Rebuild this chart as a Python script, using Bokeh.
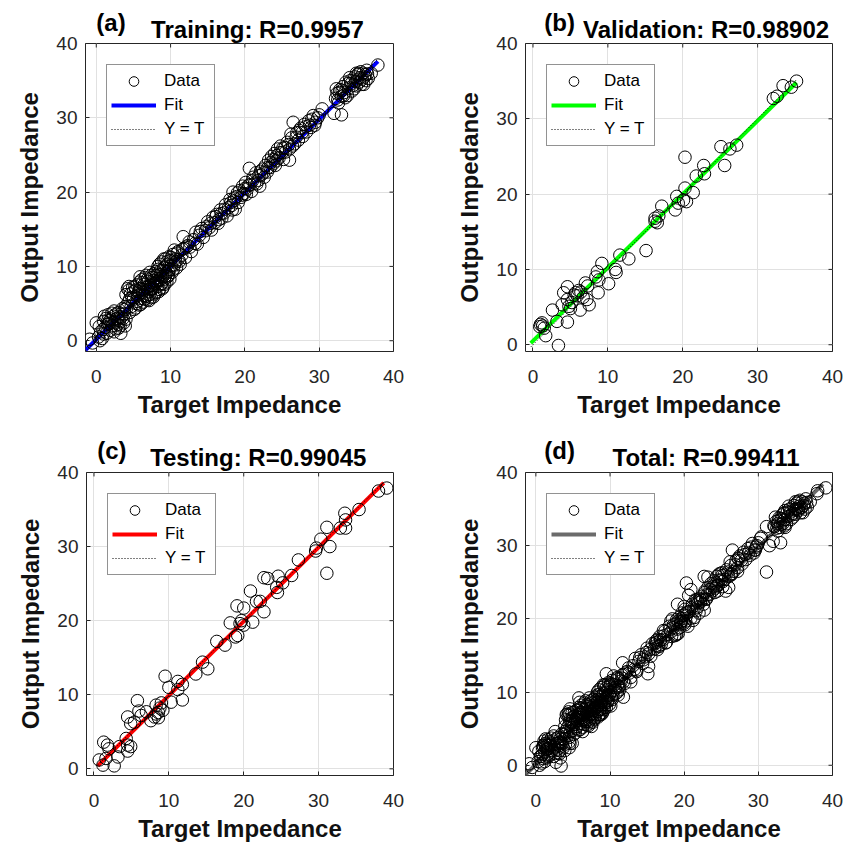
import numpy as np
from bokeh.plotting import figure
from bokeh.models import Range1d, FixedTicker, Legend, LegendItem
from bokeh.layouts import row, column
from bokeh.core.properties import value
from bokeh.embed import file_html
from bokeh.resources import INLINE

# ---------------- data ----------------
tick_values = [0, 10, 20, 30, 40]

train_target = [
    -0.9, -0.5, 0.0, 0.3, 0.6, 0.8, 1.0, 1.2, 1.3, 1.5, 1.6, 1.8, 1.9, 2.0, 2.2, 2.3, 2.5, 2.6, 2.8, 2.9,
    3.0, 3.1, 3.3, 3.4, 3.5, 3.7, 3.8, 3.9, 4.0,
    0.4, 0.9, 1.1, 1.4, 1.7, 2.1, 2.4, 2.7, 3.2, 3.6, 2.1, 1.6, 2.9, 3.3, 3.9, 0.5, 1.0, 2.4, 3.0, 3.8,
    4.2, 4.3, 4.5, 4.6, 4.7, 4.9, 5.0, 5.1, 5.3, 5.4, 5.5, 5.6, 5.8, 5.9, 6.0, 6.1, 6.2, 6.3, 6.5, 6.6,
    6.7, 6.8, 6.9, 7.0, 7.1, 7.2, 7.3, 7.4, 7.5, 7.6, 7.7, 7.8, 7.9, 8.0, 8.1, 8.2, 8.3, 8.4, 8.5, 8.6,
    8.7, 8.8, 8.9, 9.0, 9.1, 9.2, 9.3, 9.4, 9.5, 9.6, 9.7, 9.8, 9.9, 10.0, 10.2, 10.3, 10.5, 10.6, 10.8, 11.0,
    11.2, 11.5, 11.7, 11.8, 12.0, 12.3, 12.5, 12.8,
    4.1, 4.4, 4.8, 5.2, 5.5, 5.7, 6.0, 6.2, 6.4, 6.6, 6.8, 7.0, 7.2, 7.4, 7.5, 7.7, 7.9, 8.0, 8.2, 8.4,
    8.5, 8.7, 8.9, 9.0, 9.2, 9.3, 9.5, 9.7, 9.9, 10.1, 10.4, 10.7, 10.9, 11.3, 11.6, 12.1, 5.0, 5.8, 6.3, 6.9,
    7.3, 7.8, 8.1, 8.6, 8.8, 9.4, 9.6, 10.1, 4.5, 5.3, 6.5, 7.1, 4.0, 4.4, 5.9, 8.3, 9.1, 10.5, 11.0, 12.6,
    13.1, 13.4, 13.6, 13.9, 14.2, 14.4, 14.7, 15.0, 15.2, 15.5, 15.7, 16.0, 16.2, 16.5, 16.7, 16.9, 17.2, 17.4, 17.6, 17.8,
    18.0, 18.2, 18.4, 18.5, 18.7, 18.9, 19.1, 19.3, 19.5, 19.7, 19.9, 20.1, 20.3, 20.6, 20.7, 20.9, 21.1, 21.3, 21.5, 21.8,
    22.0, 22.2, 22.4, 22.6, 22.8, 23.0, 23.2, 23.4, 23.6, 23.8, 24.0, 24.2, 24.4, 24.6, 24.8, 25.0, 25.2, 25.4, 25.7, 26.0,
    26.0, 26.3, 26.5, 26.7, 27.0, 27.2, 27.5, 27.8, 28.0, 28.3, 28.6, 28.9, 29.2, 29.5, 29.8, 30.4,
    13.3, 14.0, 14.9, 15.4, 16.1, 16.8, 17.3, 18.1, 18.6, 19.0, 19.6, 20.0, 20.5, 21.0, 21.6, 22.1, 22.5, 23.1, 23.5, 23.9,
    24.3, 24.7, 25.1, 25.5, 25.9, 26.4, 26.9, 27.3, 27.7, 28.2, 28.7, 29.0, 29.4, 30.0, 24.1, 21.9, 20.2, 18.3, 16.4, 26.2,
    32.0, 32.2, 32.4, 32.6, 32.8, 33.0, 33.0, 33.2, 33.4, 33.6, 33.8, 34.0, 34.2, 34.4, 34.6, 34.8, 35.0, 35.2, 35.4, 35.6,
    35.8, 36.0, 36.2, 36.4, 36.6, 37.0, 37.9,
    32.3, 32.7, 33.1, 33.5, 33.9, 34.3, 34.7, 35.1, 35.3, 35.5, 35.7, 35.9, 36.1, 36.3, 36.5, 34.1, 33.3, 32.5, 34.9, 35.0,
]
train_output = [
    0.2, -0.3, 2.4, 0.5, 1.2, 0.3, 2.6, 1.8, 3.0, 2.2, 3.5, 2.7, 1.4, 2.9, 2.0, 3.3, 2.5, 1.6, 3.0, 2.2,
    3.8, 2.7, 1.0, 3.2, 4.3, 2.4, 3.6, 4.6, 2.9,
    1.9, 1.5, 3.3, 1.0, 2.3, 3.7, 1.2, 3.6, 2.0, 3.0, 2.5, 2.8, 2.9, 3.6, 2.0, 0.0, 0.9, 4.0, 1.7, 4.2,
    7.0, 5.2, 3.8, 6.3, 4.6, 7.2, 5.6, 4.2, 6.8, 5.0, 7.5, 6.1, 4.8, 7.0, 5.7, 8.2, 6.5, 5.2, 7.6, 6.0,
    8.8, 7.1, 5.5, 8.0, 6.6, 9.2, 7.4, 5.8, 8.5, 7.0, 5.9, 9.0, 7.8, 6.5, 8.8, 7.3, 10.0, 8.1, 6.9, 9.4,
    7.6, 10.6, 8.6, 7.2, 9.8, 8.3, 11.0, 9.1, 7.9, 10.3, 8.8, 11.3, 9.6, 10.8, 9.2, 11.6, 10.2, 11.0, 9.8, 12.0,
    10.7, 11.5, 14.0, 12.4, 11.2, 12.8, 13.3, 12.0,
    4.4, 6.8, 5.8, 7.3, 5.3, 6.6, 4.9, 7.8, 6.1, 8.5, 6.0, 7.3, 6.2, 8.8, 7.1, 8.1, 6.3, 9.3, 8.0, 6.6,
    10.3, 8.3, 7.0, 9.5, 7.6, 8.7, 10.6, 9.3, 8.3, 11.2, 9.6, 10.6, 11.8, 10.3, 12.3, 12.6, 6.6, 7.9, 6.9, 8.3,
    6.9, 7.5, 7.7, 8.9, 7.7, 10.0, 8.6, 10.1, 5.6, 4.4, 5.6, 5.4, 6.2, 7.3, 8.6, 9.6, 11.0, 12.2, 10.9, 12.6,
    13.6, 14.6, 13.0, 14.2, 15.1, 13.9, 14.8, 16.0, 15.2, 14.9, 16.6, 15.9, 17.0, 16.3, 17.6, 16.5, 17.2, 18.3, 16.8, 17.9,
    19.0, 18.2, 20.0, 18.8, 17.7, 19.4, 18.6, 20.2, 19.3, 20.8, 19.8, 21.3, 20.4, 23.2, 21.0, 20.1, 22.0, 21.2, 22.6, 21.6,
    20.8, 22.3, 23.1, 22.0, 23.6, 22.7, 24.3, 23.3, 24.8, 23.8, 25.2, 24.2, 25.8, 24.6, 26.2, 25.3, 24.4, 26.0, 26.7, 24.3,
    25.8, 27.3, 29.4, 26.5, 28.0, 27.0, 28.6, 27.5, 29.1, 28.1, 29.6, 28.7, 30.3, 29.4, 30.0, 31.2,
    13.1, 14.7, 15.4, 15.8, 16.7, 17.1, 17.7, 18.6, 19.2, 19.9, 19.6, 20.5, 20.9, 21.5, 21.1, 22.8, 22.6, 23.3, 24.0, 24.4,
    24.9, 25.3, 25.9, 25.4, 26.4, 26.2, 27.4, 28.3, 28.0, 28.8, 29.0, 29.8, 29.0, 30.4, 23.6, 22.2, 19.7, 17.6, 15.8, 27.8,
    30.6, 32.6, 33.3, 32.0, 33.8, 30.4, 32.9, 34.2, 33.4, 34.8, 33.0, 34.0, 35.0, 33.6, 34.4, 35.5, 34.3, 35.8, 34.8, 36.2,
    35.2, 34.5, 35.8, 36.4, 35.3, 36.0, 37.1,
    33.9, 33.4, 33.7, 32.7, 34.6, 34.6, 33.9, 35.1, 36.0, 35.4, 34.5, 36.0, 35.5, 35.0, 35.9, 35.4, 33.0, 32.4, 34.9, 36.0,
]

val_target = [
    35.2, 34.5, 33.4, 32.6, 32.1, 27.2, 26.3, 25.1, 25.6, 20.3, 22.8, 22.9, 21.8, 20.3, 21.4, 20.1, 20.5,
    19.2, 19.0, 19.4, 16.3, 16.8, 17.2, 16.3, 16.6, 15.1, 12.8, 11.6, 11.0, 11.1, 10.1, 9.2, 8.6, 8.8,
    8.4, 8.7, 7.0, 7.3, 7.5, 7.2, 6.3, 5.7, 5.9, 6.1, 5.5, 6.4, 6.7, 4.6, 4.1, 4.6, 4.8, 3.9, 5.2, 5.0,
    2.6, 4.6, 3.2, 3.4, 1.2, 1.0, 1.5, 1.7, 1.3, 0.9,
]
val_output = [
    35.0, 34.2, 34.4, 33.0, 32.7, 26.5, 26.0, 26.3, 23.8, 24.9, 23.8, 22.7, 22.4, 20.8, 20.2, 19.2, 19.0,
    19.7, 17.9, 18.8, 16.8, 17.1, 18.4, 16.4, 16.2, 12.5, 11.4, 11.9, 10.0, 9.6, 8.1, 10.8, 9.7, 8.6,
    9.0, 6.9, 8.2, 7.8, 5.3, 6.0, 4.6, 6.9, 6.5, 7.2, 6.6, 7.0, 6.3, 7.7, 6.9, 6.0, 5.1, 5.3, 5.6, 4.8,
    4.6, 3.0, 3.1, -0.1, 2.9, 2.7, 2.2, 1.2, 2.5, 2.4,
]

test_target = [
    39.1, 38.0, 35.4, 33.5, 33.6, 33.6, 32.9, 31.1, 30.3, 31.5, 29.7, 29.6, 31.1, 27.3, 26.4, 25.2, 24.6,
    24.4, 24.5, 22.7, 23.2, 22.7, 22.2, 21.7, 20.9, 21.2, 20.0, 19.1, 19.7, 20.0, 19.5, 18.2, 19.2, 18.9,
    16.4, 17.5, 14.5, 15.2, 13.6, 11.8, 11.2, 11.2, 11.8, 9.5, 10.0, 10.3, 9.0, 8.8, 8.3, 8.3, 8.1, 8.6,
    9.2, 8.6, 7.6, 7.0, 6.0, 5.8, 5.4, 4.5, 4.9, 6.3, 4.3, 4.5, 4.9, 4.5, 3.4, 3.2, 1.3, 1.8, 2.0, 0.7,
    1.2, 2.7, 1.6,
]
test_output = [
    37.9, 37.5, 35.0, 34.5, 33.6, 32.5, 32.5, 32.6, 31.0, 30.0, 29.8, 29.4, 26.4, 28.2, 26.1, 25.1, 26.0,
    24.5, 23.8, 25.8, 25.7, 21.2, 22.6, 22.6, 24.0, 19.8, 21.7, 22.0, 20.0, 19.4, 19.6, 19.7, 18.0, 17.8,
    17.2, 16.7, 14.4, 13.5, 12.8, 11.4, 11.8, 10.7, 9.3, 12.5, 11.0, 9.0, 8.9, 8.2, 8.6, 7.4, 7.0, 7.6,
    7.9, 6.9, 6.5, 7.7, 7.8, 9.2, 6.3, 7.0, 6.1, 7.2, 4.1, 3.2, 3.0, 2.4, 3.0, 1.6, 3.6, 3.2, 2.7, 1.2,
    0.5, 0.4, 1.4,
]

total_target = train_target + val_target + test_target
total_output = train_output + val_output + test_output

panel_tags = ["(a)", "(b)", "(c)", "(d)"]
panel_titles = ["Training: R=0.9957", "Validation: R=0.98902", "Testing: R=0.99045", "Total: R=0.99411"]
fit_colors = ["#0000ff", "#00ff00", "#ff0000", "#6b6b6b"]
fit_slope = [0.987, 0.975, 1.0, 0.99]
fit_intercept = [0.18, 0.5, -0.1, 0.1]
fit_span = [(-1.45, 37.9), (-0.3, 35.2), (0.5, 38.7), (-1.4, 38.7)]
axis_low = [(-1.45, -1.45), (-1.0, -0.9), (-1.0, -0.9), (-1.4, -1.4)]

# ---------------- styling / layout ----------------
FONT = "Liberation Sans"
AX = "#262626"
HEADER_H = 45
# main plot: (left, right, top, bottom) borders, (width, height), overlap with header
geometry = [
    ((85, 35, 13, 77), (428, 398), 15),
    ((97, 22, 13, 77), (426, 398), 15),
    ((86, 35, 13, 65), (428, 385), 14),
    ((97, 22, 13, 65), (426, 385), 14),
]
tag_x = [15, 26, 15, 26]
title_y = 16   # text anchor height inside the header strip
tag_y = 23


def style_axis(ax):
    ax.ticker = FixedTicker(ticks=tick_values)
    ax.axis_line_color = None
    ax.major_tick_in = 4
    ax.major_tick_out = 0
    ax.major_tick_line_color = AX
    ax.minor_tick_line_color = None
    ax.major_label_text_font = FONT
    ax.major_label_text_font_size = "19px"
    ax.major_label_text_color = AX
    ax.axis_label_text_font = FONT
    ax.axis_label_text_font_size = "24px"
    ax.axis_label_text_font_style = "bold"
    ax.axis_label_text_color = "#111111"


def make_header(i):
    (bl, br, bt, bb), (w, h), ov = geometry[i]
    fw = w - bl - br
    hd = figure(width=w, height=HEADER_H, output_backend="svg", toolbar_location=None,
                x_range=Range1d(0, w), y_range=Range1d(0, HEADER_H),
                x_axis_type=None, y_axis_type=None,
                min_border=0, min_border_left=0, min_border_right=0, min_border_top=0,
                min_border_bottom=0, title_location=None)
    hd.outline_line_color = None
    hd.background_fill_color = "white"
    hd.border_fill_color = "white"
    hd.text(x=[bl + fw / 2], y=[title_y], text=[panel_titles[i]],
            text_align="center", text_baseline="alphabetic", text_font=value(FONT),
            text_font_size=value("24px"), text_font_style="bold", text_color="black")
    hd.text(x=[tag_x[i]], y=[tag_y], text=[panel_tags[i]],
            text_align="left", text_baseline="alphabetic", text_font=value(FONT),
            text_font_size=value("24px"), text_font_style="bold", text_color="black")
    return hd


def make_panel(i, t, o):
    (bl, br, bt, bb), (w, h), ov = geometry[i]
    fw = w - bl - br
    lx, ly = axis_low[i]
    p = figure(width=w, height=h, output_backend="svg", toolbar_location=None,
               x_range=Range1d(lx, 40), y_range=Range1d(ly, 40), title_location=None,
               min_border_left=bl, min_border_right=br, min_border_top=bt, min_border_bottom=bb,
               x_axis_label="Target Impedance", y_axis_label="Output Impedance",
               margin=(-ov, 0, 0, 0))
    p.background_fill_color = "white"
    p.border_fill_color = None
    p.outline_line_color = AX
    p.outline_line_width = 1

    for ax in p.xaxis:
        style_axis(ax)
        ax.major_label_standoff = 18
        ax.axis_label_standoff = 5
    for ax in p.yaxis:
        style_axis(ax)
        ax.major_label_standoff = 8
        ax.axis_label_standoff = 10

    p.xgrid.ticker = FixedTicker(ticks=tick_values)
    p.ygrid.ticker = FixedTicker(ticks=tick_values)
    p.grid.grid_line_color = "#e1e1e1"
    p.grid.grid_line_width = 1

    # inward ticks on the top and right edges of the box (MATLAB "box on")
    tick_len = 4 * (40 - lx) / fw
    tv = np.array(tick_values[:-1], dtype=float)
    p.segment(x0=tv, y0=np.full_like(tv, 40.0), x1=tv, y1=np.full_like(tv, 40.0 - tick_len),
              line_color=AX, line_width=1)
    p.segment(x0=np.full_like(tv, 40.0), y0=tv, x1=np.full_like(tv, 40.0 - tick_len), y1=tv,
              line_color=AX, line_width=1)

    xs = np.array(fit_span[i])
    r_fit = p.line(xs, fit_slope[i] * xs + fit_intercept[i], line_color=fit_colors[i], line_width=4)
    r_yt = p.line(xs, xs, line_color="black", line_width=1, line_dash="1 2")
    r_data = p.scatter(t, o, marker="circle", size=12.5, fill_color=None,
                       line_color="black", line_width=1)

    legend = Legend(items=[LegendItem(label="Data", renderers=[r_data]),
                           LegendItem(label="Fit", renderers=[r_fit]),
                           LegendItem(label="Y = T", renderers=[r_yt])],
                    location="top_left", margin=21, padding=4, spacing=0,
                    glyph_width=45, glyph_height=24, label_height=24, label_width=46,
                    label_standoff=8, label_text_font=FONT, label_text_font_size="17px",
                    label_text_color="black", border_line_color=AX, border_line_width=1,
                    background_fill_color="white", background_fill_alpha=1.0)
    p.add_layout(legend)
    return p


datasets = [(train_target, train_output), (val_target, val_output),
            (test_target, test_output), (total_target, total_output)]
cells = [column(make_header(i), make_panel(i, *datasets[i])) for i in range(4)]

layout = column(row(cells[0], cells[1]), row(cells[2], cells[3]))
open("out.html", "w").write(file_html(layout, INLINE))
